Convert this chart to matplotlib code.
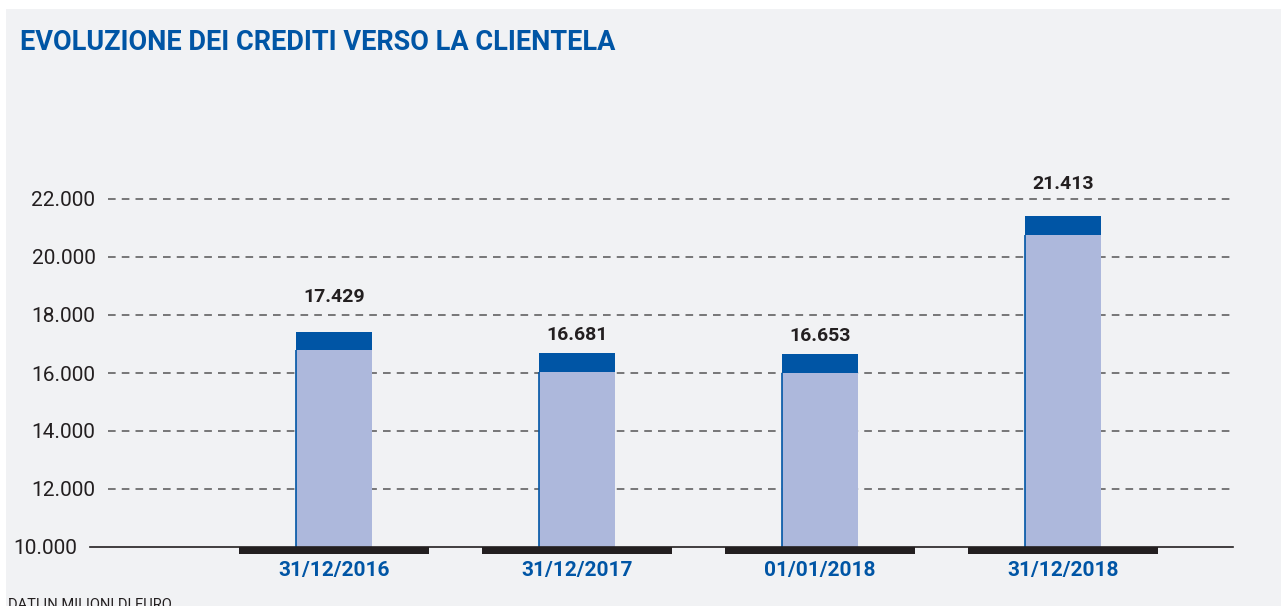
import matplotlib.pyplot as plt
from matplotlib.patches import Rectangle
from matplotlib.transforms import ScaledTranslation

# dati in milioni di euro
categories = ['31/12/2016', '31/12/2017', '01/01/2018', '31/12/2018']
values = [17429, 16681, 16653, 21413]
value_labels = ['17.429', '16.681', '16.653', '21.413']
yticks = [10000, 12000, 14000, 16000, 18000, 20000, 22000]
ytick_labels = ['10.000', '12.000', '14.000', '16.000', '18.000', '20.000', '22.000']

BLUE = '#0055a5'
LIGHT = '#adb8dc'
PANEL = '#f1f2f4'
FONT = ['Roboto', 'DejaVu Sans']
CAP = 650          # altezza della fascia blu scura
label_gap = [35, 18, 18, 32]   # distanza etichetta/barra in pixel

W, H = 1281, 606
fig = plt.figure(figsize=(W / 100, H / 100), dpi=100, facecolor='white')
fig.patches.append(Rectangle((6 / W, 0), 1, (H - 9) / H, transform=fig.transFigure,
                             facecolor=PANEL, edgecolor='none', zorder=-5))

ax = fig.add_axes([108 / W, (H - 547) / H, (1233 - 108) / W, 391.5 / H])
ax.set_facecolor('none')
ax.set_xlim(-0.93, 3.70)
ax.set_ylim(10000, 23500)
x = list(range(len(categories)))
bw = 0.31

# barre
ax.bar(x, [v - CAP - 10000 for v in values], bottom=10000, width=bw,
       color=LIGHT, edgecolor='none', zorder=2)
ax.bar(x, [CAP] * len(values), bottom=[v - CAP for v in values], width=bw,
       color=BLUE, edgecolor='none', zorder=2)
ax.vlines([i - bw / 2 for i in x], 10000, [v - CAP for v in values],
          color=BLUE, lw=1.2, zorder=3)

# basi nere sotto ogni categoria
ax.bar(x, [240] * len(values), bottom=10000 - 240, width=0.78,
       color='#231f20', edgecolor='none', clip_on=False, zorder=4)

# griglia
for t in yticks[1:]:
    ax.axhline(t, color='#555555', lw=1.1, ls=(0, (5, 4)), zorder=1)
ax.axhline(10000, xmin=-0.016, color='#231f20', lw=1.2, clip_on=False, zorder=3)

for i, v in enumerate(values):
    ax.annotate(value_labels[i], (i, v), xytext=(0, label_gap[i]),
                textcoords='offset pixels', ha='center', va='center',
                fontsize=14, fontweight='bold', color='#231f20', family=FONT)

ax.set_yticks(yticks)
ax.set_yticklabels(ytick_labels, family=FONT, fontsize=15, color='#231f20')
ax.set_xticks(x)
ax.set_xticklabels(categories, family=FONT, fontsize=15,
                   fontweight='bold', color=BLUE)
ax.tick_params(axis='both', length=0)
ax.tick_params(axis='y', pad=9)
ax.tick_params(axis='x', pad=10)
for s in ax.spines.values():
    s.set_visible(False)

# l'etichetta 10.000 sta piu' a sinistra, prima della linea di base
lab0 = ax.get_yticklabels()[0]
lab0.set_transform(lab0.get_transform() + ScaledTranslation(-0.18, 0, fig.dpi_scale_trans))

fig.text(20 / W, 1 - 50 / H, 'EVOLUZIONE DEI CREDITI VERSO LA CLIENTELA',
         family=FONT, fontsize=19.5, fontweight='bold', color=BLUE, va='baseline')
fig.text(8 / W, 1 - 609 / H, 'DATI IN MILIONI DI EURO',
         family=FONT, fontsize=10.5, color='#231f20', va='baseline')

fig.savefig('out.png', dpi=100, facecolor='white')
